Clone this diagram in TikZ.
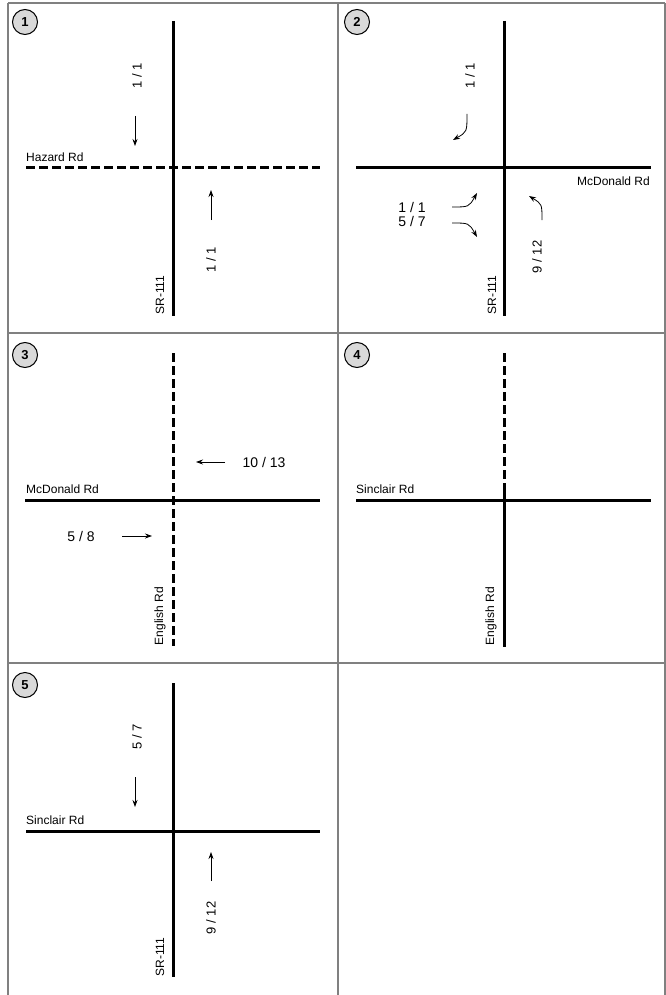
\documentclass[tikz,border=0pt]{standalone}
\usepackage{fontspec}
\setmainfont{Liberation Sans}
\usetikzlibrary{arrows.meta}
\begin{document}
\begin{tikzpicture}[x=1pt,y=-1pt,
  grid/.style={draw=black!50, line width=1.3pt},
  road/.style={line width=3pt, line cap=butt},
  dashroad/.style={road, dash pattern=on 9pt off 4pt},
  arr/.style={line width=0.8pt, -{Stealth[length=7pt,width=5pt]}},
  badge/.style={circle, draw=black, line width=1pt, fill=black!15, minimum size=25pt, inner sep=0pt, font=\fontsize{13}{13}\selectfont\bfseries},
  rname/.style={inner sep=0pt, font=\fontsize{12}{12}\selectfont},
  vlab/.style={inner sep=0pt, rotate=90, font=\fontsize{13}{13}\selectfont},
  hlab/.style={inner sep=0pt, font=\fontsize{14}{14}\selectfont}]
\useasboundingbox (0,0) rectangle (666,995);
% table grid
\draw[grid] (8,3) -- (665,3);
\draw[grid] (8,3) -- (8,995);
\draw[grid] (338,3) -- (338,995);
\draw[grid] (665,3) -- (665,995);
\draw[grid] (8,333) -- (665,333);
\draw[grid] (8,663) -- (665,663);
% badges
\node[badge] (b1) at (25,22) {1};
\node[badge] (b2) at (357,22) {2};
\node[badge] (b3) at (25,355) {3};
\node[badge] (b4) at (357,355) {4};
\node[badge] (b5) at (25,685) {5};
% ---------- panel 1
\coordinate (p1n) at (173,21); \coordinate (p1s) at (173,316);
\coordinate (p1w) at (26,168); \coordinate (p1e) at (320,168);
\draw[road] (p1n) -- (p1s);
\draw[dashroad] (p1w) -- (p1e);
\node[rname, anchor=south west] (h1) at (26,162) {Hazard Rd};
\node[vlab] (l1a) at (137,76) {1 / 1};
\coordinate (a1s) at (135,116); \coordinate (a1e) at (135,146);
\draw[arr] (a1s) -- (a1e);
\coordinate (a2s) at (211,220); \coordinate (a2e) at (211,190);
\draw[arr] (a2s) -- (a2e);
\node[vlab] (l1b) at (211,260) {1 / 1};
\node[rname, rotate=90] (s1) at (160,295) {SR-111};
% ---------- panel 2
\coordinate (p2n) at (504,21); \coordinate (p2s) at (504,316);
\coordinate (p2w) at (356,168); \coordinate (p2e) at (651,168);
\draw[road] (p2n) -- (p2s);
\draw[road] (p2w) -- (p2e);
\node[rname, anchor=north east] (m2) at (650,177) {McDonald Rd};
\node[vlab] (l2a) at (470,76) {1 / 1};
\coordinate (c1s) at (467,114); \coordinate (c1e) at (453,140);
\draw[arr] (c1s) .. controls (467,132) .. (c1e);
\node[hlab] (l2b) at (412,207) {1 / 1};
\node[hlab] (l2c) at (412,221) {5 / 7};
\coordinate (c2s) at (452,207); \coordinate (c2e) at (477,193);
\draw[arr] (c2s) .. controls (469,207) .. (c2e);
\coordinate (c3s) at (452,223); \coordinate (c3e) at (477,237);
\draw[arr] (c3s) .. controls (469,223) .. (c3e);
\coordinate (c4s) at (542,220); \coordinate (c4e) at (529,196);
\draw[arr] (c4s) .. controls (542,204) .. (c4e);
\node[vlab] (l2d) at (537,257) {9 / 12};
\node[rname, rotate=90] (s2) at (492,295) {SR-111};
% ---------- panel 3
\coordinate (p3n) at (173,353); \coordinate (p3s) at (173,646);
\coordinate (p3w) at (25,500); \coordinate (p3e) at (320,500);
\draw[dashroad] (p3n) -- (p3s);
\draw[road] (p3w) -- (p3e);
\node[rname, anchor=south west] (m3) at (26,494) {McDonald Rd};
\coordinate (a3s) at (225,462); \coordinate (a3e) at (196,462);
\draw[arr] (a3s) -- (a3e);
\node[hlab] (l3a) at (264,462) {10 / 13};
\coordinate (a4s) at (122,536); \coordinate (a4e) at (152,536);
\draw[arr] (a4s) -- (a4e);
\node[hlab] (l3b) at (81,536) {5 / 8};
\node[rname, rotate=90] (e3) at (160,616) {English Rd};
% ---------- panel 4
\coordinate (p4n) at (504,353); \coordinate (p4m) at (504,486);
\coordinate (p4s) at (504,647);
\coordinate (p4w) at (356,500); \coordinate (p4e) at (651,500);
\draw[dashroad] (p4n) -- (p4m);
\draw[road] (p4m) -- (p4s);
\draw[road] (p4w) -- (p4e);
\node[rname, anchor=south west] (s4) at (356,494) {Sinclair Rd};
\node[rname, rotate=90] (e4) at (491,616) {English Rd};
% ---------- panel 5
\coordinate (p5n) at (173,683); \coordinate (p5s) at (173,977);
\coordinate (p5w) at (26,831); \coordinate (p5e) at (320,831);
\draw[road] (p5n) -- (p5s);
\draw[road] (p5w) -- (p5e);
\node[rname, anchor=south west] (s5) at (26,825) {Sinclair Rd};
\node[vlab] (l5a) at (137,737) {5 / 7};
\coordinate (a5s) at (135,777); \coordinate (a5e) at (135,807);
\draw[arr] (a5s) -- (a5e);
\coordinate (a6s) at (211,881); \coordinate (a6e) at (211,852);
\draw[arr] (a6s) -- (a6e);
\node[vlab] (l5b) at (211,918) {9 / 12};
\node[rname, rotate=90] (s5b) at (160,957) {SR-111};
\end{tikzpicture}
\end{document}
